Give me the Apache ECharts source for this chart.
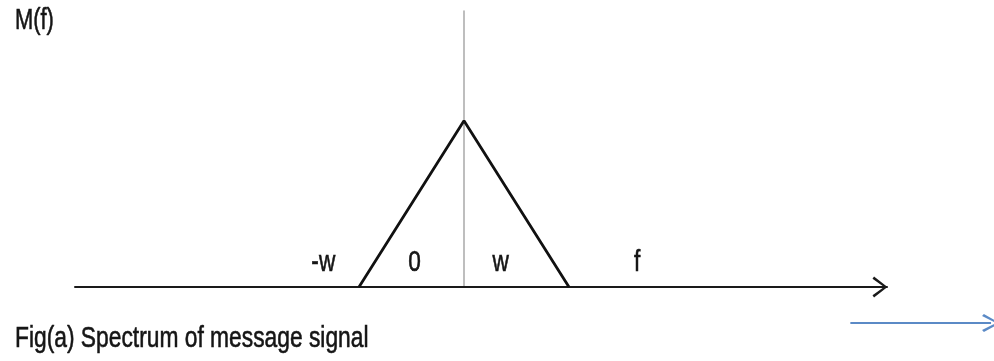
<!DOCTYPE html>
<html>
<head>
<meta charset="utf-8">
<script src="https://cdn.jsdelivr.net/npm/echarts@6/dist/echarts.min.js"></script>
<style>
  html, body { margin: 0; padding: 0; background: #fff; }
  #chart { width: 994px; height: 361px; }
</style>
</head>
<body>
<div id="chart"></div>
<script>
// spectrum M(f): triangle from -w to w, peak at 0
const freq = [-1, 0, 1]
const mag = [0, 1, 0]

// text labels along the f axis
const labelText = ['-w', '0', 'w', 'f']
const labelX = [-1.34, -0.47, 0.35, 1.65]
const labelY = [0.145, 0.145, 0.145, 0.145]

// stray blue arrow under the axis
const blueX = [3.68, 5.02]
const blueY = [-0.217, -0.217]

const titleText = 'M(f)'
const captionText = 'Fig(a) Spectrum of message signal'

const chevron = 'path://M0,14 L11,0 L22,14 L19.6,15.6 L11,3.6 L2.4,15.6 Z'

var myChart = echarts.init(document.getElementById('chart'))

let tri = []
for (let i = 0; i < freq.length; i++) {
  tri.push([freq[i], mag[i]])
}

myChart.setOption({
  backgroundColor: '#fff',
  animation: false,
  grid: {
    left: 75,
    right: 107,
    top: 11,
    bottom: 74
  },
  xAxis: {
    type: 'value',
    min: -3.705,
    max: 4.029,
    axisLine: {
      show: true,
      symbol: ['none', chevron],
      symbolSize: [23, 15],
      symbolOffset: [0, -7],
      lineStyle: { color: '#1a1a1a', width: 2 }
    },
    axisTick: { show: false },
    axisLabel: { show: false },
    splitLine: { show: false }
  },
  yAxis: {
    type: 'value',
    min: 0,
    max: 1.66,
    axisLine: {
      show: true,
      onZero: true,
      lineStyle: { color: '#a8a8a8', width: 1.5 }
    },
    axisTick: { show: false },
    axisLabel: { show: false },
    splitLine: { show: false }
  },
  series: [
    {
      type: 'line',
      data: tri,
      symbol: 'none',
      lineStyle: { color: '#111', width: 2.8 },
      z: 3
    },
    {
      type: 'lines',
      coordinateSystem: 'cartesian2d',
      clip: false,
      symbol: ['none', chevron],
      symbolSize: [26, 18],
      lineStyle: { color: '#5b8ac6', width: 2, opacity: 1 },
      data: [{ coords: [[blueX[0], blueY[0]], [blueX[1], blueY[1]]] }]
    }
  ]
})

// texts are horizontally squeezed in the original, so use graphic text with scaleX
const font = '"Liberation Sans", Arial, sans-serif'
const ink = '#151515'
let g = [
  {
    type: 'text', x: 15, y: 21, scaleX: 0.73,
    style: { text: titleText, font: '30px ' + font, fill: ink, stroke: ink, lineWidth: 0.6, align: 'left', verticalAlign: 'middle' }
  },
  {
    type: 'text', x: 15, y: 339, scaleX: 0.76,
    style: { text: captionText, font: '30px ' + font, fill: ink, stroke: ink, lineWidth: 0.6, align: 'left', verticalAlign: 'middle' }
  }
]
for (let i = 0; i < labelText.length; i++) {
  let p = myChart.convertToPixel({ gridIndex: 0 }, [labelX[i], labelY[i]])
  g.push({
    type: 'text', x: p[0], y: p[1], scaleX: 0.78,
    style: { text: labelText[i], font: '29px ' + font, fill: ink, stroke: ink, lineWidth: 0.6, align: 'center', verticalAlign: 'middle' }
  })
}
myChart.setOption({ graphic: g })
</script>
</body>
</html>
